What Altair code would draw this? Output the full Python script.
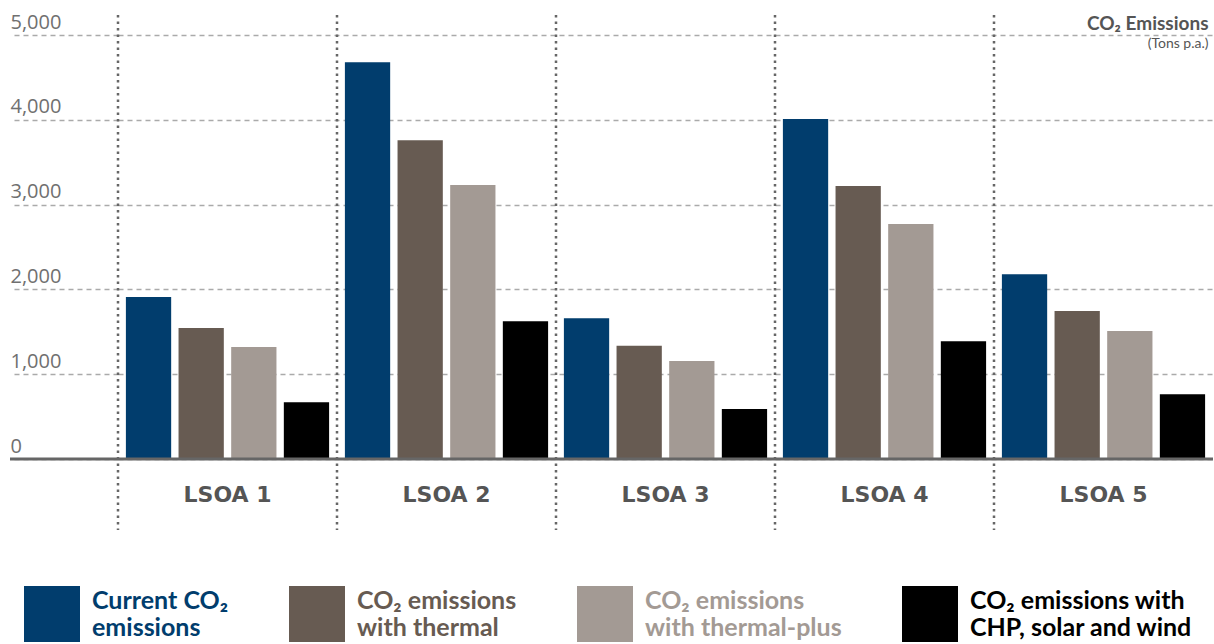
import altair as alt
import pandas as pd

areas = ["LSOA 1", "LSOA 2", "LSOA 3", "LSOA 4", "LSOA 5"]
series = [
    "Current CO₂|emissions",
    "CO₂ emissions|with thermal",
    "CO₂ emissions|with thermal-plus",
    "CO₂ emissions with|CHP, solar and wind",
]
current = [1910, 4680, 1660, 4010, 2180]
thermal = [1545, 3760, 1335, 3220, 1745]
thermal_plus = [1320, 3230, 1155, 2770, 1510]
chp = [670, 1625, 590, 1390, 765]
colors = ["#013d6d", "#675b52", "#a39a94", "#000000"]
y_ticks = [0, 1000, 2000, 3000, 4000, 5000]

rows = []
for s, vals in zip(series, [current, thermal, thermal_plus, chp]):
    for a, v in zip(areas, vals):
        rows.append({"area": a, "series": s, "value": v})
df = pd.DataFrame(rows)
div_df = pd.DataFrame({"area": areas})
zero_df = pd.DataFrame({"value": [0]})

W, H = 1095, 444
x_axis = alt.Axis(title=None, domain=False, ticks=False, labelAngle=0,
                  labelFont="DejaVu Sans", labelFontWeight="bold", labelFontSize=22,
                  labelColor="#555555", labelPadding=25)
y_scale = alt.Scale(domain=[0, 5236], nice=False)
x_scale = alt.Scale(paddingInner=0, paddingOuter=0)

bars = alt.Chart(df).mark_bar().encode(
    x=alt.X("area:N", sort=areas, scale=x_scale, axis=x_axis),
    xOffset=alt.XOffset("series:N", sort=series,
                        scale=alt.Scale(paddingInner=0.14, paddingOuter=0.15)),
    y=alt.Y("value:Q", scale=y_scale,
            axis=alt.Axis(title=None, values=y_ticks, format=",.0f", domain=False,
                          tickSize=108, tickDash=[5, 4], tickColor="#aaaaaa", tickWidth=1.3,
                          grid=True, gridDash=[5, 4], gridColor="#aaaaaa", gridWidth=1.3,
                          labelAlign="left", labelBaseline="bottom", labelPadding=0,
                          labelOffset=-3, labelFont="Open Sans", labelFontSize=20,
                          labelColor="#707070")),
    color=alt.Color("series:N", sort=series,
                    scale=alt.Scale(domain=series, range=colors),
                    legend=alt.Legend(title=None, orient="none", legendX=-94, legendY=571,
                                      direction="horizontal", columns=4, columnPadding=60,
                                      symbolType="square", symbolSize=3136,
                                      symbolStrokeWidth=0, symbolOpacity=1,
                                      labelExpr="split(datum.label, '|')",
                                      labelFont="Lato", labelFontWeight="bold",
                                      labelFontSize=25,
                                      labelLimit=500, labelOffset=12,
                                      labelBaseline="bottom",
                                      labelColor=alt.ExprRef("scale('color', datum.value)"),
                                      padding=0)),
)

dividers = alt.Chart(div_df).mark_rule(color="#666666", strokeWidth=2.5,
                                       strokeDash=[2.5, 4]).encode(
    x=alt.X("area:N", sort=areas, bandPosition=0, scale=x_scale, axis=x_axis),
    y=alt.value(0),
    y2=alt.value(515),
)

zero = alt.Chart(zero_df).mark_rule(color="#666666", strokeWidth=3).encode(
    y=alt.Y("value:Q", scale=y_scale),
    x=alt.value(-108),
    x2=alt.value(W),
)

chart = alt.layer(dividers, bars, zero).properties(
    width=W, height=H,
    padding={"left": 118, "top": 15, "right": 1, "bottom": 185},
    autosize="none",
    title=alt.TitleParams(text="CO₂ Emissions", subtitle="(Tons p.a.)",
                          anchor="end", orient="top", offset=-39, dx=-6,
                          font="Lato", fontSize=19, fontWeight="bold", color="#555555",
                          subtitleFont="Lato", subtitleFontSize=14, subtitleColor="#555555",
                          subtitlePadding=3),
).configure_view(stroke=None)

chart.save("out.html", embed_options={"renderer": "svg", "actions": False})
